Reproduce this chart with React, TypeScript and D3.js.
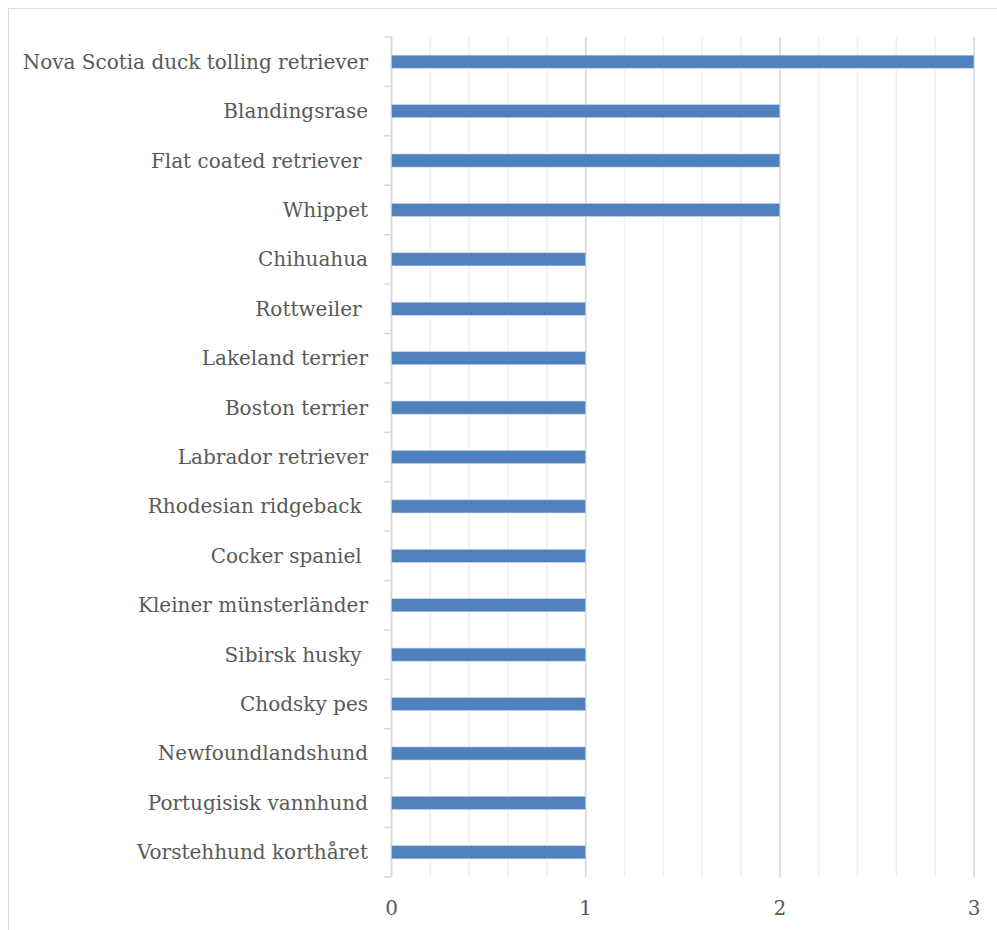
import React from "react";
import * as d3 from "d3";

const categories = [
  "Nova Scotia duck tolling retriever",
  "Blandingsrase",
  "Flat coated retriever ",
  "Whippet",
  "Chihuahua",
  "Rottweiler ",
  "Lakeland terrier",
  "Boston terrier",
  "Labrador retriever",
  "Rhodesian ridgeback ",
  "Cocker spaniel ",
  "Kleiner münsterländer",
  "Sibirsk husky ",
  "Chodsky pes",
  "Newfoundlandshund",
  "Portugisisk vannhund",
  "Vorstehhund korthåret",
];
const values = [3, 2, 2, 2, 1, 1, 1, 1, 1, 1, 1, 1, 1, 1, 1, 1, 1];
const majorTicks = [0, 1, 2, 3];
const minorTicks = d3.range(0, 3.0001, 0.2);

export default function App() {
  const W = 997, H = 930;
  const left = 391.5, right = 974, top = 37, bottom = 877;
  const x = d3.scaleLinear().domain([0, 3]).range([left, right]);
  const y = d3.scaleBand().domain(categories).range([top, bottom]).paddingInner(0.735).paddingOuter(0.3675);
  const band = (bottom - top) / categories.length;
  const font = "'DejaVu Serif', serif";
  return (
    <svg width={W} height={H} style={{ position: "absolute", left: 0, top: 0 }}>
      <rect x={0} y={0} width={W} height={H} fill="#fff" />
      <rect x={8.5} y={8.5} width={W + 20} height={H + 20} fill="none" stroke="#d9d9d9" />
      {minorTicks.map((t, i) => (
        <line key={"m" + i} x1={x(t)} x2={x(t)} y1={top} y2={bottom} stroke="#f0f0f0" strokeWidth={1.5} />
      ))}
      {majorTicks.map((t) => (
        <line key={"M" + t} x1={x(t)} x2={x(t)} y1={top} y2={bottom} stroke="#d9d9d9" strokeWidth={1.5} />
      ))}
      {d3.range(categories.length + 1).map((i) => (
        <line key={"t" + i} x1={left - 8} x2={left} y1={top + i * band} y2={top + i * band} stroke="#d9d9d9" strokeWidth={1.5} />
      ))}
      <line x1={left} x2={left} y1={top} y2={bottom} stroke="#d9d9d9" strokeWidth={1.5} />
      {categories.map((c, i) => (
        <rect key={"b" + i} x={x(0)} y={y(c)!} width={x(values[i]) - x(0)} height={y.bandwidth()} fill="#4f81bd" stroke="#c6d6ea" strokeWidth={0.6} />
      ))}
      {categories.map((c, i) => (
        <text key={"l" + i} x={368} y={y(c)! + y.bandwidth() / 2} dy="0.35em" textAnchor="end" fontFamily={font} fontSize={20} fill="#595959" style={{ whiteSpace: "pre" }} xmlSpace="preserve">
          {c}
        </text>
      ))}
      {majorTicks.map((t) => (
        <text key={"x" + t} x={x(t)} y={908} dy="0.35em" textAnchor="middle" fontFamily={font} fontSize={20} fill="#595959">
          {t}
        </text>
      ))}
    </svg>
  );
}
